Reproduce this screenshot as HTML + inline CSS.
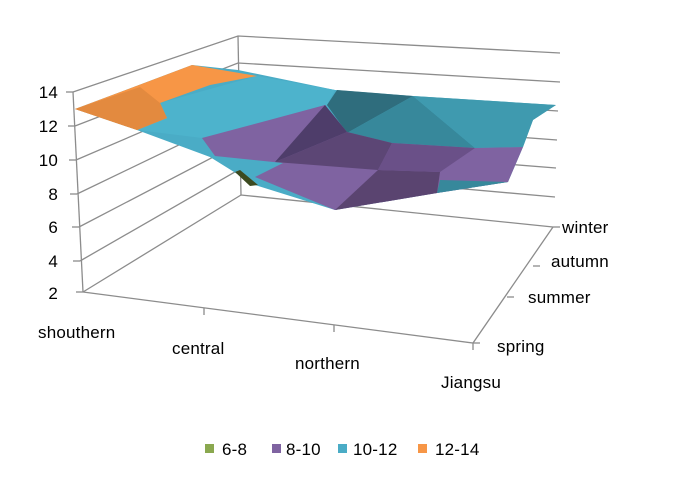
<!DOCTYPE html>
<html><head><meta charset="utf-8"><style>
html,body{margin:0;padding:0;background:#fff;}
svg{display:block;font-family:"Liberation Sans",sans-serif;}
text{font-size:17px;fill:#000;letter-spacing:0.2px;}
</style></head><body>
<svg width="676" height="480" viewBox="0 0 676 480">
<g stroke="#8c8c8c" stroke-width="1.3" fill="none">
<line x1="238" y1="36" x2="241" y2="195"/>
<line x1="73" y1="92" x2="83" y2="292"/>
<polyline points="73,92 238,36 560,53"/>
<polyline points="75,126 238,63 560,82"/>
<polyline points="76,160 239,90 558,111"/>
<polyline points="77,194 239,116 557,140"/>
<polyline points="79,227 240,143 556,168"/>
<polyline points="80,261 240,169 555,197"/>
<polyline points="83,292 241,195 553,227"/>
<polyline points="83,292 473,343 553,227"/>
<line x1="66" y1="92" x2="73" y2="92"/>
<line x1="68" y1="126" x2="75" y2="126"/>
<line x1="69" y1="160" x2="76" y2="160"/>
<line x1="70" y1="194" x2="77" y2="194"/>
<line x1="72" y1="227" x2="79" y2="227"/>
<line x1="73" y1="261" x2="80" y2="261"/>
<line x1="76" y1="292" x2="83" y2="292"/>
<line x1="204" y1="308" x2="204" y2="315"/>
<line x1="334" y1="325" x2="334" y2="332"/>
<line x1="473" y1="343" x2="473" y2="350"/>
<line x1="553" y1="227" x2="560" y2="227"/>
<line x1="533" y1="266" x2="540" y2="266"/>
<line x1="507" y1="297" x2="514" y2="297"/>
<line x1="473" y1="343" x2="480" y2="343"/>
</g>
<polygon points="75,109 192,65 238,70 335,90 413,96 556,105 533,120 523,147 508,182 437,193 335,210 255,185 210,157 137,130" fill="#4aacc6"/>
<polygon points="160,103 257,76 335,90 327,105 202,138 137,130" fill="#4db3cc"/>
<polygon points="240,170 258,185 250,186 235,172" fill="#3c4a20"/>
<polygon points="327,105 337,90 413,96 347,133" fill="#2f6d7d"/>
<polygon points="413,96 347,133 392,143 475,148" fill="#37889b"/>
<polygon points="413,96 556,105 533,120 523,147 475,148" fill="#3f9aaf"/>
<polygon points="202,138 262,122 325,105 347,132 392,143 475,148 523,147 508,182 437,193 335,210 255,177 283,163 215,156" fill="#7f63a1"/>
<polygon points="325,105 347,132 275,162" fill="#4e3d6a"/>
<polygon points="275,162 347,132 392,143 378,170" fill="#5c4675"/>
<polygon points="378,170 335,210 437,193 440,172" fill="#5a4470"/>
<polygon points="392,143 475,148 440,172 378,170" fill="#6a5088"/>
<polygon points="437,193 508,182 440,180" fill="#37889b"/>
<polygon points="75,109 192,65 257,76 210,85 160,103 167,118 137,130" fill="#f79646"/>
<polygon points="75,109 140,87 160,103 167,118 137,130" fill="#e38a3f"/>
<g text-anchor="end">
<text x="58" y="98">14</text>
<text x="58" y="132">12</text>
<text x="58" y="166">10</text>
<text x="58" y="200">8</text>
<text x="58" y="233">6</text>
<text x="58" y="267">4</text>
<text x="58" y="299">2</text>
</g>
<text x="38" y="338">shouthern</text>
<text x="172" y="354">central</text>
<text x="295" y="369">northern</text>
<text x="441" y="388">Jiangsu</text>
<text x="562" y="233">winter</text>
<text x="551" y="267">autumn</text>
<text x="528" y="303">summer</text>
<text x="497" y="352">spring</text>
<rect x="205" y="444" width="9" height="9" fill="#8aa84f"/>
<text x="222" y="455">6-8</text>
<rect x="272" y="444" width="9" height="9" fill="#7f63a1"/>
<text x="286" y="455">8-10</text>
<rect x="338" y="444" width="9" height="9" fill="#4aacc6"/>
<text x="353" y="455">10-12</text>
<rect x="418" y="444" width="9" height="9" fill="#f79646"/>
<text x="435" y="455">12-14</text>
</svg>
</body></html>
